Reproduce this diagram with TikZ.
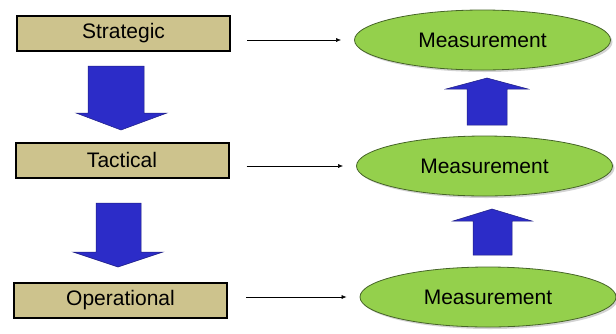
\documentclass[tikz,border=0pt]{standalone}
\usepackage{fontspec}
\setmainfont{Liberation Sans}
\usetikzlibrary{shapes.geometric,shadows,calc,arrows.meta}
\definecolor{tanfill}{RGB}{205,195,141}
\definecolor{limefill}{RGB}{148,208,76}
\definecolor{limeedge}{RGB}{70,100,40}
\definecolor{arrowblue}{RGB}{44,44,200}
\definecolor{arrowedge}{RGB}{30,30,130}
\tikzset{
  level/.style={draw=black, line width=2pt, fill=tanfill, rectangle,
    minimum width=213pt, minimum height=35pt, inner sep=0pt,
    font=\fontsize{21}{25}\selectfont},
  measure/.style={ellipse, draw=limeedge, line width=0.8pt, fill=limefill,
    minimum width=256pt, minimum height=60pt, inner sep=0pt,
    font=\fontsize{21}{25}\selectfont,
    drop shadow={shadow xshift=2pt, shadow yshift=-2pt, opacity=0.35}},
  conn/.style={draw=black, line width=0.6pt, -{Latex[length=5pt,width=4pt]}},
  blockarrow/.style={fill=arrowblue, draw=arrowedge, line width=0.5pt, line join=miter}
}
\begin{document}
\begin{tikzpicture}[x=1pt,y=-1pt]
  \useasboundingbox (0,0) rectangle (616,333);

  % organisational levels
  \node[level] (strat) at (123.5,33) {Strategic};
  \node[level] (tact)  at (122,160) {Tactical};
  \node[level] (oper)  at (120.5,300.5) {Operational};

  % measurement ellipses
  \node[measure] (m1) at (482.5,40) {Measurement};
  \node[measure] (m2) at (484.5,166) {Measurement};
  \node[measure] (m3) at (488,297) {Measurement};

  % level to measurement connectors
  \draw[conn] ($(strat.east |- m1.west)+(16,0)$) -- ($(m1.west)+(-13,0)$);
  \draw[conn] ($(tact.east |- m2.west)+(17,0)$) -- ($(m2.west)+(-13,0)$);
  \draw[conn] ($(oper.east |- m3.west)+(18,0)$) -- ($(m3.west)+(-13,0)$);

  % downward block arrows between levels
  \path[blockarrow] (88,66) -- (144,66) -- (144,113) -- (167,113) -- (121,130)
    -- (76,113) -- (88,113) -- cycle;
  \path[blockarrow] (96,203) -- (141,203) -- (141,252) -- (163,252) -- (118,267)
    -- (73,252) -- (96,252) -- cycle;

  % upward block arrows between measurements
  \path[blockarrow] (467,125) -- (507,125) -- (507,89) -- (528,89) -- (487,78)
    -- (446,89) -- (467,89) -- cycle;
  \path[blockarrow] (473,255) -- (512,255) -- (512,221) -- (532,221) -- (492,209)
    -- (453,221) -- (473,221) -- cycle;
\end{tikzpicture}
\end{document}
